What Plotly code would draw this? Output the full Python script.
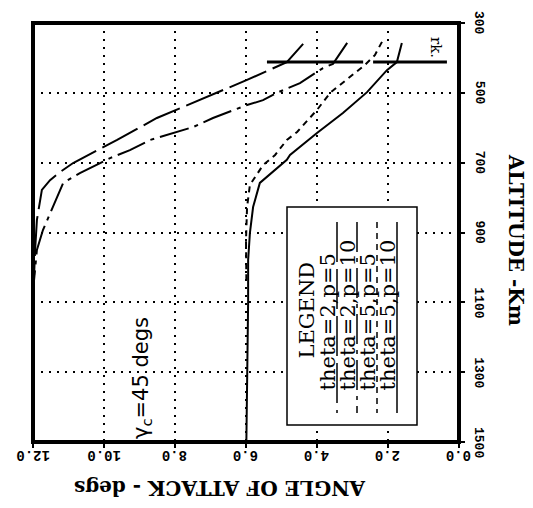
import plotly.graph_objects as go

# ---- data ----
angle_ticks = [0, 2, 4, 6, 8, 10, 12]
angle_tick_labels = ["0.0", "2.0", "4.0", "6.0", "8.0", "10.0", "12.0"]
alt_ticks = [300, 500, 700, 900, 1100, 1300, 1500]
alt_tick_labels = ["300", "500", "700", "900", "1100", "1300", "1500"]

series_names = ["theta=2,p=5", "theta=2,p=10", "theta=5,p=5", "theta=5,p=10"]

a_alt = [360, 412, 463, 521, 572, 635, 701, 727, 750, 778, 864, 950, 1022]
a_ang = [4.39, 4.85, 5.97, 7.30, 8.51, 9.63, 10.87, 11.24, 11.52, 11.75, 11.89, 11.94, 11.97]

b_alt = [357, 417, 429, 472, 500, 521, 535, 572, 598, 635, 664, 687, 730, 758, 893, 950, 1036]
b_ang = [3.15, 3.55, 3.83, 4.48, 5.13, 5.52, 5.97, 6.93, 7.49, 8.70, 9.27, 9.83, 10.68, 11.15, 11.72, 11.89, 11.97]

c_alt = [354, 392, 420, 472, 500, 549, 612, 635, 678, 707, 764, 827, 921, 1036]
c_ang = [2.17, 2.37, 2.65, 3.27, 3.63, 4.00, 4.56, 4.85, 5.18, 5.52, 5.89, 5.97, 6.00, 5.99]

d_alt = [357, 412, 435, 498, 558, 615, 678, 692, 758, 827, 901, 979, 1099, 1300, 1500]
d_ang = [1.61, 1.75, 2.03, 2.59, 3.27, 4.00, 4.76, 4.85, 5.61, 5.80, 5.89, 5.94, 5.94, 5.97, 5.99]

rk_alt = [412, 412, None, 412, 412]
rk_ang = [5.41, 2.70, None, 2.42, 0.34]

dashes = ["40px,7px", "30px,6px,4px,6px", "6px,5px", "solid"]

# plot-area geometry in window pixels (page body adds an 8px offset)
OFF = 8
L, R, T, B = 33, 459, 23, 442
FIG_W, FIG_H = 533 - OFF, 508 - OFF


def px_ang(px):
    return 12 * (R - px) / (R - L)


def py_alt(py):
    return 300 + 1200 * (py - T) / (B - T)


def px_paper(px):
    return (px - L) / (R - L)


def py_paper(py):
    return (B - py) / (B - T)


def note(**kw):
    kw.setdefault("showarrow", False)
    kw.setdefault("xanchor", "center")
    kw.setdefault("yanchor", "middle")
    fig.add_annotation(**kw)


fig = go.Figure()
for name, xs, ys, dsh in zip(series_names, [a_ang, b_ang, c_ang, d_ang],
                             [a_alt, b_alt, c_alt, d_alt], dashes):
    fig.add_trace(go.Scatter(x=xs, y=ys, mode="lines", name=name,
                             line=dict(color="black", width=2, dash=dsh),
                             showlegend=False, hoverinfo="skip"))
fig.add_trace(go.Scatter(x=rk_ang, y=rk_alt, mode="lines",
                         line=dict(color="black", width=3), showlegend=False,
                         hoverinfo="skip"))

# frame
fig.add_shape(type="rect", xref="paper", yref="paper", x0=0, y0=0, x1=1, y1=1,
              line=dict(color="black", width=4))

# legend box
fig.add_shape(type="rect", xref="x", yref="y", x0=px_ang(287), x1=px_ang(417),
              y0=py_alt(207), y1=py_alt(425),
              line=dict(color="black", width=1.5), fillcolor="white")
leg_text_px = [327, 347, 367, 387]
leg_line_px = [337, 357, 377, 397]
legfont = dict(family="DejaVu Serif", size=21, color="black")
for t, lx, tx, dsh in zip(series_names, leg_line_px, leg_text_px, dashes):
    fig.add_shape(type="line", xref="x", yref="y", x0=px_ang(lx), x1=px_ang(lx),
                  y0=py_alt(222), y1=py_alt(413),
                  line=dict(color="black", width=1.5, dash=dsh))
    note(x=px_ang(tx), y=py_alt(393), xref="x", yref="y", text=t,
         textangle=-90, yanchor="bottom", font=legfont)
note(x=px_ang(306), y=py_alt(361), xref="x", yref="y", text="LEGEND",
     textangle=-90, yanchor="bottom", font=legfont)

note(x=px_ang(142), y=py_alt(378), xref="x", yref="y",
     text="γ<sub>c</sub>=45 degs", textangle=-90,
     font=dict(family="DejaVu Sans", size=21, color="black"))
note(x=px_ang(436), y=py_alt(47), xref="x", yref="y", text="rk.", textangle=90,
     font=dict(family="DejaVu Serif", size=15, color="black"))

# tick labels
tickfont = dict(family="Liberation Mono", size=14, color="black", weight="bold")
for v, s in zip(angle_ticks, angle_tick_labels):
    note(x=v, y=py_paper(455), xref="x", yref="paper", text=s,
         textangle=180, font=tickfont)
ytickfont = dict(family="Liberation Mono", size=13, color="black", weight="bold")
for v, s in zip(alt_ticks, alt_tick_labels):
    note(x=px_paper(479), y=v, xref="paper", yref="y", text=s,
         textangle=90, font=ytickfont)

# axis titles
titlefont = dict(family="DejaVu Serif", size=20, color="black", weight="bold")
note(x=px_paper(220), y=py_paper(488), xref="paper", yref="paper",
     text="ANGLE OF ATTACK - degs", textangle=180, font=titlefont)
note(x=px_paper(516), y=py_paper(240), xref="paper", yref="paper",
     text="ALTITUDE -Km", textangle=90, font=titlefont)

fig.update_xaxes(range=[12, 0], tickvals=angle_ticks, showticklabels=False,
                 ticks="outside", ticklen=5, tickwidth=2, tickcolor="black",
                 showgrid=True, gridcolor="black", griddash="2px,6px", gridwidth=1.5,
                 zeroline=False, showline=False, automargin=False)
fig.update_yaxes(range=[1500, 300], tickvals=alt_ticks, showticklabels=False,
                 side="right", ticks="outside", ticklen=5, tickwidth=2,
                 tickcolor="black", showgrid=True, gridcolor="black", griddash="2px,6px",
                 gridwidth=1.5, zeroline=False, showline=False, automargin=False)
fig.update_layout(width=FIG_W, height=FIG_H,
                  margin=dict(l=L - OFF, r=FIG_W - (R - OFF), t=T - OFF,
                              b=FIG_H - (B - OFF), autoexpand=False),
                  plot_bgcolor="white", paper_bgcolor="white", showlegend=False)
fig.write_html("out.html")
